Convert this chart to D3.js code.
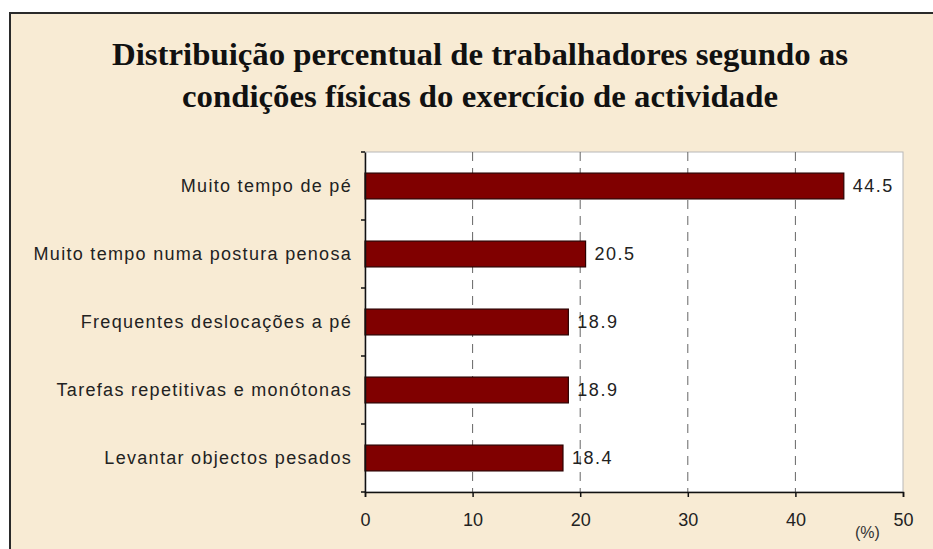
<!DOCTYPE html>
<html>
<head>
<meta charset="utf-8">
<script src="https://cdn.jsdelivr.net/npm/d3@7"></script>
<style>
  body { margin: 0; background: #fff; }
  svg { display: block; }
</style>
</head>
<body>
<div id="chart"></div>
<script>
const categories = [
  'Muito tempo de pé',
  'Muito tempo numa postura penosa',
  'Frequentes deslocações a pé',
  'Tarefas repetitivas e monótonas',
  'Levantar objectos pesados'
];
const values = [44.5, 20.5, 18.9, 18.9, 18.4];
const xTicks = [0, 10, 20, 30, 40, 50];
const titleLines = [
  'Distribuição percentual de trabalhadores segundo as',
  'condições físicas do exercício de actividade'
];

const W = 933, H = 549;
const plot = { left: 365, top: 152, right: 903, bottom: 492 };
const sans = 'Arial, "Liberation Sans", sans-serif';

const svg = d3.select('#chart').append('svg')
  .attr('width', W)
  .attr('height', H);

// background + frame (cropped at right/bottom)
svg.append('rect').attr('width', W).attr('height', H).attr('fill', '#fff');
svg.append('rect')
  .attr('x', 10).attr('y', 13)
  .attr('width', W + 20).attr('height', H + 20)
  .attr('fill', '#f8ebd4')
  .attr('stroke', '#2a2a2a')
  .attr('stroke-width', 2);

// title
svg.append('g')
  .style('font-family', '"Liberation Serif", "Times New Roman", Times, serif')
  .attr('font-weight', 'bold')
  .attr('font-size', 31)
  .attr('fill', '#111')
  .attr('text-anchor', 'middle')
  .selectAll('text')
  .data(titleLines)
  .enter()
  .append('text')
  .attr('x', 480)
  .attr('y', (d, i) => 65 + i * 42)
  .attr('textLength', (d, i) => i === 0 ? 736 : 596)
  .attr('lengthAdjust', 'spacingAndGlyphs')
  .text(d => d);

const x = d3.scaleLinear().domain([0, 50]).range([plot.left, plot.right]);
const y = d3.scaleBand().domain(categories).range([plot.top, plot.bottom]).paddingInner(0.62).paddingOuter(0.31);
const yb = d3.scaleBand().domain(categories).range([plot.top, plot.bottom]);

// plot area
svg.append('rect')
  .attr('x', plot.left).attr('y', plot.top)
  .attr('width', plot.right - plot.left).attr('height', plot.bottom - plot.top)
  .attr('fill', '#fff')
  .attr('stroke', '#b8b8b8')
  .attr('stroke-width', 1);

// dashed gridlines
svg.append('g')
  .selectAll('line')
  .data(xTicks.slice(1, -1))
  .enter()
  .append('line')
  .attr('x1', d => x(d)).attr('x2', d => x(d))
  .attr('y1', plot.top).attr('y2', plot.bottom)
  .attr('stroke', '#666')
  .attr('stroke-width', 1)
  .attr('stroke-dasharray', '9,7');

// bars
svg.append('g')
  .selectAll('rect')
  .data(values)
  .enter()
  .append('rect')
  .attr('x', x(0))
  .attr('y', (d, i) => y(categories[i]))
  .attr('width', d => x(d) - x(0))
  .attr('height', y.bandwidth())
  .attr('fill', '#800000')
  .attr('stroke', '#2b0000')
  .attr('stroke-width', 1.2);

// value labels
svg.append('g')
  .style('font-family', sans)
  .attr('font-size', 18)
  .attr('letter-spacing', 1.5)
  .attr('fill', '#222')
  .selectAll('text')
  .data(values)
  .enter()
  .append('text')
  .attr('x', d => x(d) + 9)
  .attr('y', (d, i) => yb(categories[i]) + yb.bandwidth() / 2 + 6)
  .text(d => d.toFixed(1));

// category axis
const yAxis = svg.append('g')
  .attr('transform', 'translate(' + plot.left + ',0)')
  .call(d3.axisLeft(yb).tickSize(0).tickPadding(13));
yAxis.select('.domain').attr('stroke', '#111').attr('stroke-width', 1.5);
yAxis.selectAll('text')
  .style('font-family', sans)
  .attr('font-size', 18)
  .attr('letter-spacing', 1.3)
  .attr('fill', '#222')
  .attr('dy', '0.35em');
yAxis.append('g')
  .selectAll('line')
  .data(categories.concat(['end']))
  .enter()
  .append('line')
  .attr('x1', -4).attr('x2', 0)
  .attr('y1', (d, i) => plot.top + i * yb.step())
  .attr('y2', (d, i) => plot.top + i * yb.step())
  .attr('stroke', '#111')
  .attr('stroke-width', 1.5);

// value axis
const xAxis = svg.append('g')
  .attr('transform', 'translate(0,' + plot.bottom + ')')
  .call(d3.axisBottom(x).tickValues(xTicks).tickSize(5).tickPadding(16).tickFormat(d3.format('d')));
xAxis.select('.domain').attr('stroke', '#111').attr('stroke-width', 1.5);
xAxis.selectAll('.tick line').attr('stroke', '#111').attr('stroke-width', 1.5);
xAxis.selectAll('text')
  .style('font-family', sans)
  .attr('font-size', 18)
  .attr('fill', '#222');

svg.append('text')
  .attr('x', 855).attr('y', 538)
  .style('font-family', sans)
  .attr('font-size', 16)
  .attr('fill', '#333')
  .text('(%)');
</script>
</body>
</html>
